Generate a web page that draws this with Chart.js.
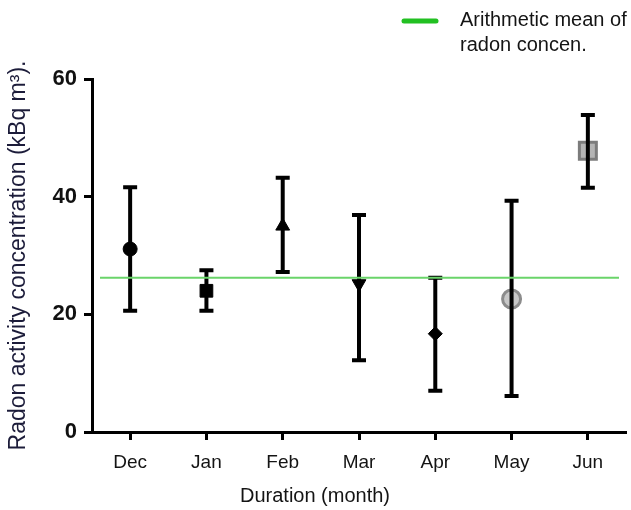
<!DOCTYPE html>
<html>
<head>
<meta charset="utf-8">
<script src="https://cdn.jsdelivr.net/npm/chart.js@4/dist/chart.umd.min.js"></script>
<style>
  html, body { margin: 0; padding: 0; background: #ffffff; }
  #wrap { width: 631px; height: 510px; }
</style>
</head>
<body>
<div id="wrap"><canvas id="c" width="631" height="510"></canvas></div>
<script>
// ---- data ----
const months = ['Dec', 'Jan', 'Feb', 'Mar', 'Apr', 'May', 'Jun'];
const meanValues  = [31.1, 24.0, 35.0, 25.2, 16.7, 22.6, 47.8];
const upperValues = [41.6, 27.5, 43.2, 36.9, 26.2, 39.3, 53.9];
const lowerValues = [20.6, 20.6, 27.2, 12.2, 7.0, 6.1, 41.5];
const arithmeticMean = 26.2;
const yTicks = [0, 20, 40, 60];
const yTitle = 'Radon activity concentration (kBq m\u00B3).';
const xTitle = 'Duration (month)';
const legendLines = ['Arithmetic mean of', 'radon concen.'];

// ---- styles ----
const FONT = '"Liberation Sans", Arial, sans-serif';
const TXT = '#141414';
const pointStyles = ['circle', 'rect', 'triangle', 'triangle', 'rectRot', 'circle', 'rect'];
const pointRotations = [0, 0, 0, 180, 0, 0, 0];
const pointRadii = [7, 9, 8, 8, 7, 9, 12];
const pointFill = ['#000', '#000', '#000', '#000', '#000', '#c8c8c8', '#b4b4b4'];
const pointBorder = ['#000', '#000', '#000', '#000', '#000', '#8c8c8c', '#7c7c7c'];
const pointBorderW = [1, 1, 1, 1, 1, 3, 3];

const overlay = {
  id: 'overlay',
  afterDatasetsDraw(chart) {
    const ctx = chart.ctx;
    const xs = chart.scales.x, ys = chart.scales.y;
    const area = chart.chartArea;
    ctx.save();
    // error bars
    ctx.strokeStyle = '#000';
    ctx.lineCap = 'butt';
    for (let i = 0; i < months.length; i++) {
      const x = xs.getPixelForValue(i);
      const yt = ys.getPixelForValue(upperValues[i]);
      const yb = ys.getPixelForValue(lowerValues[i]);
      ctx.lineWidth = 4;
      ctx.beginPath();
      ctx.moveTo(x, yt); ctx.lineTo(x, yb);
      ctx.stroke();
      ctx.beginPath();
      ctx.moveTo(x - 7, yt); ctx.lineTo(x + 7, yt);
      ctx.moveTo(x - 7, yb); ctx.lineTo(x + 7, yb);
      ctx.stroke();
    }
    // arithmetic mean line
    const ym = ys.getPixelForValue(arithmeticMean);
    ctx.strokeStyle = '#6ad46a';
    ctx.lineWidth = 2;
    ctx.beginPath();
    ctx.moveTo(area.left + 8, ym);
    ctx.lineTo(area.right - 7, ym);
    ctx.stroke();
    ctx.restore();
  },
  afterDraw(chart) {
    const ctx = chart.ctx;
    ctx.save();
    // legend
    ctx.strokeStyle = '#22c022';
    ctx.lineWidth = 5;
    ctx.lineCap = 'round';
    ctx.beginPath();
    ctx.moveTo(404, 21); ctx.lineTo(436, 21);
    ctx.stroke();
    ctx.fillStyle = TXT;
    ctx.font = '20px ' + FONT;
    ctx.textAlign = 'left';
    ctx.textBaseline = 'middle';
    ctx.fillText(legendLines[0], 460, 20);
    ctx.fillText(legendLines[1], 460, 45);
    // x title
    ctx.textAlign = 'center';
    ctx.font = '20px ' + FONT;
    ctx.fillText(xTitle, 315, 496);
    ctx.restore();
  }
};

new Chart(document.getElementById('c'), {
  type: 'line',
  data: {
    labels: months,
    datasets: [{
      data: meanValues,
      showLine: false,
      pointStyle: pointStyles,
      rotation: pointRotations,
      pointRotation: pointRotations,
      pointRadius: pointRadii,
      pointHoverRadius: pointRadii,
      pointBackgroundColor: pointFill,
      pointBorderColor: pointBorder,
      pointBorderWidth: pointBorderW
    }]
  },
  options: {
    responsive: false,
    devicePixelRatio: 1,
    animation: false,
    events: [],
    layout: { autoPadding: false, padding: { top: 79, right: 5, left: 0, bottom: 0 } },
    plugins: { legend: { display: false }, tooltip: { enabled: false } },
    scales: {
      x: {
        type: 'category',
        offset: true,
        afterFit(s) { s.height = 78; },
        border: { display: true, color: '#000', width: 3 },
        grid: { display: true, drawOnChartArea: false, drawTicks: true, tickLength: 8, tickWidth: 3, tickColor: '#000', color: '#000', offset: false },
        ticks: { color: TXT, font: { family: FONT, size: 19 }, padding: 11, maxRotation: 0 }
      },
      y: {
        min: 0, max: 60,
        afterFit(s) { s.width = 92; },
        afterBuildTicks(s) { s.ticks = yTicks.map(v => ({ value: v })); },
        border: { display: true, color: '#000', width: 3 },
        grid: { display: true, drawOnChartArea: false, drawTicks: true, tickLength: 8, tickWidth: 3, tickColor: '#000', color: '#000' },
        ticks: { color: '#111', font: { family: FONT, size: 22, weight: 'bold' }, padding: 7 },
        title: { display: true, text: yTitle, color: '#1c1c3a', font: { family: FONT, size: 23 }, padding: { top: 5, bottom: 0 } }
      }
    }
  },
  plugins: [overlay]
});
</script>
</body>
</html>
